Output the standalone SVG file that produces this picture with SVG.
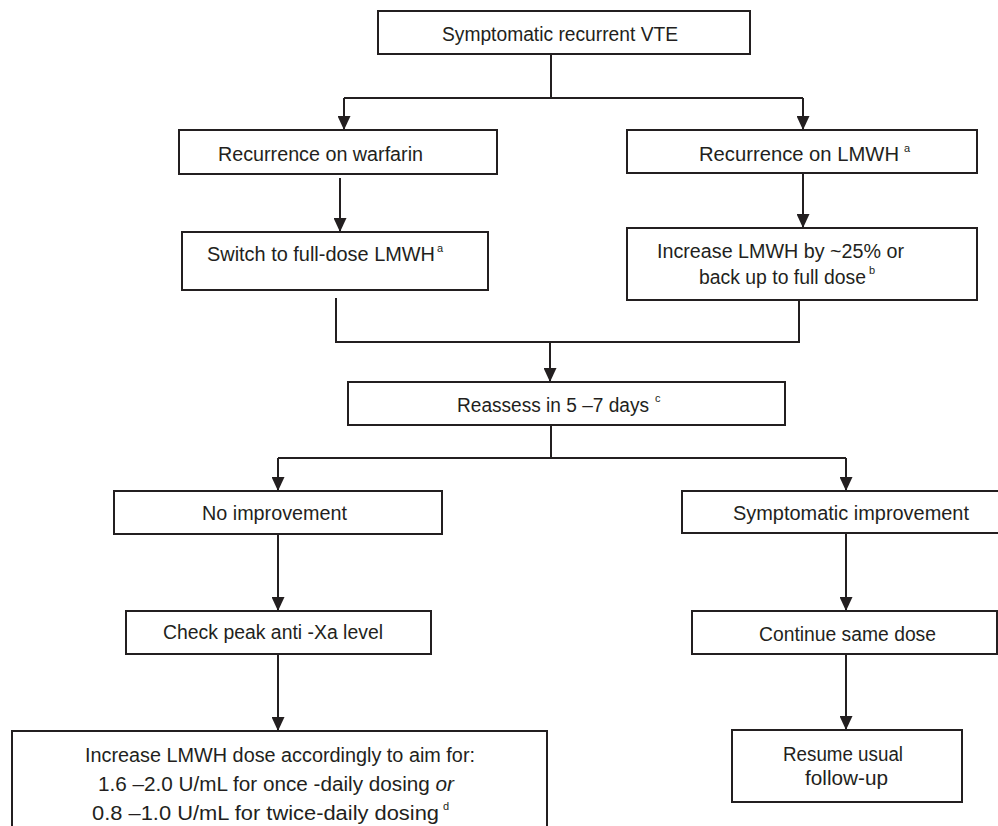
<svg xmlns="http://www.w3.org/2000/svg" width="998" height="826" viewBox="0 0 998 826">
<defs>
<style>
.box{fill:#fff;stroke:#231f20;stroke-width:2}
.ln{fill:none;stroke:#231f20;stroke-width:2}
.t{font-family:"Liberation Sans",Arial,sans-serif;font-size:20px;fill:#231f20}
.sup{font-size:11px}
</style>
<marker id="ah" markerUnits="userSpaceOnUse" markerWidth="14" markerHeight="13" refX="14" refY="6.5" orient="auto">
<path d="M0,0 L14,6.5 L0,13 z" fill="#231f20"/>
</marker>
</defs>
<rect width="998" height="826" fill="#fff"/>
<g id="connectors">
<path class="ln" d="M551,54 V98"/>
<path class="ln" d="M344,98 H803"/>
<path class="ln" d="M344,98 V130" marker-end="url(#ah)"/>
<path class="ln" d="M803,98 V130" marker-end="url(#ah)"/>
<path class="ln" d="M340,178 V232" marker-end="url(#ah)"/>
<path class="ln" d="M803,173 V228" marker-end="url(#ah)"/>
<path class="ln" d="M336,298 V342 H799 V300"/>
<path class="ln" d="M550,342 V382" marker-end="url(#ah)"/>
<path class="ln" d="M551,425 V458"/>
<path class="ln" d="M278,458 H846"/>
<path class="ln" d="M278,458 V491" marker-end="url(#ah)"/>
<path class="ln" d="M846,458 V491" marker-end="url(#ah)"/>
<path class="ln" d="M278,534 V611" marker-end="url(#ah)"/>
<path class="ln" d="M278,654 V731" marker-end="url(#ah)"/>
<path class="ln" d="M846,533 V611" marker-end="url(#ah)"/>
<path class="ln" d="M846,654 V730" marker-end="url(#ah)"/>
</g>
<g id="n-start">
<rect class="box" x="378" y="11" width="372" height="43"/>
<text class="t" x="442" y="41" textLength="236" lengthAdjust="spacingAndGlyphs">Symptomatic recurrent VTE</text>
</g>
<g id="n-warfarin">
<rect class="box" x="179" y="130" width="318" height="44"/>
<text class="t" x="218" y="161" textLength="205" lengthAdjust="spacingAndGlyphs">Recurrence on warfarin</text>
</g>
<g id="n-lmwh">
<rect class="box" x="627" y="130" width="350" height="43"/>
<text class="t" x="699" y="161" textLength="200" lengthAdjust="spacingAndGlyphs">Recurrence on LMWH</text>
<text class="t sup" x="904" y="152">a</text>
</g>
<g id="n-switch">
<rect class="box" x="182" y="232" width="306" height="58"/>
<text class="t" x="207" y="261" textLength="228" lengthAdjust="spacingAndGlyphs">Switch to full-dose LMWH</text>
<text class="t sup" x="437" y="252">a</text>
</g>
<g id="n-increase">
<rect class="box" x="627" y="228" width="350" height="72"/>
<text class="t" x="657" y="258" textLength="247" lengthAdjust="spacingAndGlyphs">Increase LMWH by ~25% or</text>
<text class="t" x="699" y="284" textLength="167" lengthAdjust="spacingAndGlyphs">back up to full dose</text>
<text class="t sup" x="869" y="274">b</text>
</g>
<g id="n-reassess">
<rect class="box" x="348" y="382" width="437" height="43"/>
<text class="t" x="457" y="412" textLength="192" lengthAdjust="spacingAndGlyphs">Reassess in 5 –7 days</text>
<text class="t sup" x="655" y="402">c</text>
</g>
<g id="n-noimp">
<rect class="box" x="114" y="491" width="328" height="43"/>
<text class="t" x="202" y="520" textLength="145" lengthAdjust="spacingAndGlyphs">No improvement</text>
</g>
<g id="n-symimp">
<rect class="box" x="682" y="491" width="320" height="42"/>
<text class="t" x="733" y="520" textLength="236" lengthAdjust="spacingAndGlyphs">Symptomatic improvement</text>
</g>
<g id="n-check">
<rect class="box" x="126" y="611" width="305" height="43"/>
<text class="t" x="163" y="639" textLength="220" lengthAdjust="spacingAndGlyphs">Check peak anti -Xa level</text>
</g>
<g id="n-continue">
<rect class="box" x="692" y="611" width="305" height="43"/>
<text class="t" x="759" y="641" textLength="177" lengthAdjust="spacingAndGlyphs">Continue same dose</text>
</g>
<g id="n-adjust">
<rect class="box" x="12" y="731" width="535" height="110"/>
<text class="t" x="85" y="762" textLength="390" lengthAdjust="spacingAndGlyphs">Increase LMWH dose accordingly to aim for:</text>
<text class="t" x="98" y="791" textLength="356" lengthAdjust="spacingAndGlyphs">1.6 –2.0 U/mL for once -daily dosing <tspan font-style="italic">or</tspan></text>
<text class="t" x="92" y="820" textLength="347" lengthAdjust="spacingAndGlyphs">0.8 –1.0 U/mL  for twice-daily dosing</text>
<text class="t sup" x="443" y="810">d</text>
</g>
<g id="n-resume">
<rect class="box" x="732" y="730" width="230" height="72"/>
<text class="t" x="783" y="761" textLength="120" lengthAdjust="spacingAndGlyphs">Resume usual</text>
<text class="t" x="805" y="785" textLength="83" lengthAdjust="spacingAndGlyphs">follow-up</text>
</g>
</svg>
